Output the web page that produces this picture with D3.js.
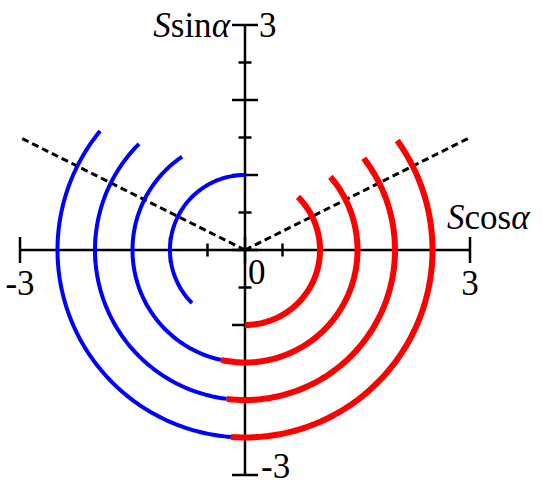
<!DOCTYPE html>
<html>
<head>
<meta charset="utf-8">
<script src="https://cdn.jsdelivr.net/npm/d3@7"></script>
<style>
  body { margin: 0; background: #fff; }
  svg text { font-family: "Liberation Serif", "Times New Roman", Times, serif; }
</style>
</head>
<body>
<svg width="543" height="487"></svg>
<script>
// arc radii and angle ranges (degrees, counter-clockwise from +x axis)
const radii = [1, 1.5, 2, 2.5];
const blueFrom = [90, 124, 135, 140.6];
const blueTo = [225, 257.7, 263, 265.7];
const redFrom = [270, 257.7, 263, 265.7];
const redTo = [405, 400.6, 397.7, 395.7];

// dashed guide lines (end points in data units)
const guideLines = [[[0, 0], [-3, 1.5]], [[0, 0], [3, 1.5]]];

const tickValues = d3.range(-3, 3.01, 0.5);

let svg = d3.select("svg");

let x = d3.scaleLinear().domain([-3, 3]).range([20, 470]),
    y = d3.scaleLinear().domain([-3, 3]).range([475, 25]);

const x0 = x(0), y0 = y(0);

// axes
svg.append("line")
    .attr("x1", x(-3)).attr("x2", x(3))
    .attr("y1", y0).attr("y2", y0)
    .attr("stroke", "#000").attr("stroke-width", 2.5);
svg.append("line")
    .attr("x1", x0).attr("x2", x0)
    .attr("y1", y(-3)).attr("y2", y(3))
    .attr("stroke", "#000").attr("stroke-width", 2.5);

function tickLen(v) {
    return Number.isInteger(v) ? 13 : 6.5;
}

svg.selectAll(".xtick")
    .data(tickValues)
    .enter().append("line")
    .attr("class", "xtick")
    .attr("x1", d => x(d)).attr("x2", d => x(d))
    .attr("y1", d => y0 - tickLen(d)).attr("y2", d => y0 + tickLen(d))
    .attr("stroke", "#000").attr("stroke-width", 2.5);

svg.selectAll(".ytick")
    .data(tickValues)
    .enter().append("line")
    .attr("class", "ytick")
    .attr("y1", d => y(d)).attr("y2", d => y(d))
    .attr("x1", d => x0 - tickLen(d)).attr("x2", d => x0 + tickLen(d))
    .attr("stroke", "#000").attr("stroke-width", 2.5);

// dashed lines
svg.selectAll(".guide")
    .data(guideLines)
    .enter().append("line")
    .attr("class", "guide")
    .attr("x1", d => x(d[0][0])).attr("y1", d => y(d[0][1]))
    .attr("x2", d => x(d[1][0])).attr("y2", d => y(d[1][1]))
    .attr("stroke", "#000").attr("stroke-width", 3)
    .attr("stroke-dasharray", "7,4");

// arcs
function arcPoints(r, a0, a1) {
    let n = Math.max(2, Math.ceil(Math.abs(a1 - a0)));
    return d3.range(n + 1).map(i => {
        let a = (a0 + (a1 - a0) * i / n) * Math.PI / 180;
        return [r * Math.cos(a), r * Math.sin(a)];
    });
}

let line = d3.line().x(d => x(d[0])).y(d => y(d[1]));

svg.selectAll(".blue")
    .data(radii)
    .enter().append("path")
    .attr("class", "blue")
    .attr("d", (r, i) => line(arcPoints(r, blueFrom[i], blueTo[i])))
    .attr("fill", "none").attr("stroke", "#0000ff").attr("stroke-width", 4);

svg.selectAll(".red")
    .data(radii)
    .enter().append("path")
    .attr("class", "red")
    .attr("d", (r, i) => line(arcPoints(r, redFrom[i], redTo[i])))
    .attr("fill", "none").attr("stroke", "#ff0000").attr("stroke-width", 6);

// labels
const fs = 35;
function label(px, py, anchor) {
    return svg.append("text").attr("x", px).attr("y", py)
        .attr("text-anchor", anchor).attr("font-size", fs);
}
label(x(-3), y0 + 45, "middle").text("-3");
label(x(3), y0 + 45, "middle").text("3");
label(x0 + 3, y0 + 34, "start").text("0");
label(x0 + 14, y(3) + 12, "start").text("3");
label(x0 + 16, y(-3) + 3, "start").text("-3");

let ylab = label(x0 - 15, y(3) + 12, "end");
ylab.append("tspan").attr("font-style", "italic").text("S");
ylab.append("tspan").text("sin");
ylab.append("tspan").attr("font-style", "italic").text("α");

let xlab = label(x(3) - 23, y0 - 21, "start");
xlab.append("tspan").attr("font-style", "italic").text("S");
xlab.append("tspan").text("cos");
xlab.append("tspan").attr("font-style", "italic").text("α");
</script>
</body>
</html>
